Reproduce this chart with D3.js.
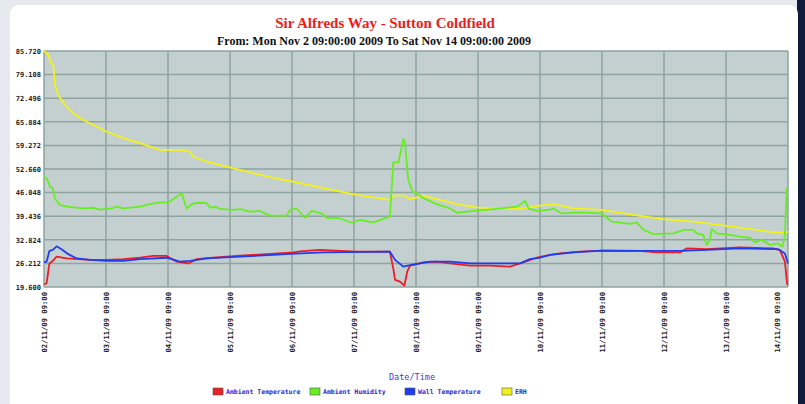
<!DOCTYPE html>
<html>
<head>
<meta charset="utf-8">
<script src="https://cdn.jsdelivr.net/npm/d3@7"></script>
<style>
  body { margin: 0; background: #e9ebee; overflow: hidden; }
  svg { display: block; }
</style>
</head>
<body>
<div id="chart"></div>
<script>
// hours since Mon Nov 2 09:00 2009 -> value
const ambientTemp = [
  [0, 20.4], [1, 20.6], [2.1, 26.2], [3.4, 26.9], [4.9, 28.1], [8.8, 27.6], [17.8, 27.2],
  [24.3, 27.2], [30.7, 27.4], [37.2, 27.8], [42.3, 28.3], [47.5, 28.3], [51.4, 26.7],
  [55.9, 26.2], [59.1, 27.4], [65.5, 27.8], [75.9, 28.4], [86.2, 28.8], [96.5, 29.3],
  [99.1, 29.6], [106.8, 30.0], [121, 29.5], [133.9, 29.5], [135.2, 24.8], [135.9, 21.6],
  [137.8, 21.1], [139.5, 20.0], [140.6, 23.9], [141.7, 25.6], [146.8, 26.5], [152, 26.7],
  [157.2, 26.2], [164.9, 25.6], [172.6, 25.6], [180.4, 25.3], [185.5, 26.5], [190.7, 27.8],
  [195.9, 28.6], [199.7, 29.0], [207.5, 29.5], [215.9, 29.8], [230.7, 29.7], [237.2, 29.3],
  [246.2, 29.3], [248.8, 30.4], [256.5, 30.2], [269.4, 30.7], [282.3, 30.4], [284.9, 29.9],
  [286.8, 26.7], [287.7, 20.2]
];
const ambientHumidity = [
  [0, 50.5], [1, 50.1], [2.3, 47.7], [3.4, 47.3], [4.3, 44.3], [6.2, 42.6], [8.8, 42.1],
  [15.2, 41.6], [19.1, 41.8], [21.7, 41.3], [26.2, 41.6], [28.1, 42.1], [30.7, 41.6],
  [37.2, 42.1], [41, 42.8], [44.9, 43.3], [48.1, 43.3], [53.3, 45.9], [55.2, 41.6],
  [57.2, 42.8], [59.1, 43.2], [63, 43.1], [64.3, 41.8], [66.2, 42.1], [68.1, 41.5],
  [73.3, 41.2], [75.9, 41.4], [79.7, 40.7], [83.6, 40.9], [87.5, 39.6], [94, 39.6],
  [95.2, 41.2], [97.8, 41.6], [101, 39.0], [103.6, 40.9], [107.5, 40.2], [109.4, 39.0],
  [114.6, 38.8], [119.1, 37.6], [122.3, 38.4], [127.5, 37.7], [133.9, 39.3], [135.2, 54.5],
  [137.2, 54.5], [139.1, 61.0], [139.7, 60.3], [141, 49.6], [142.7, 46.3], [144.2, 45.9],
  [146.8, 44.5], [152, 42.8], [157.2, 41.6], [159.8, 40.4], [167.5, 41.0], [175.2, 41.5],
  [183, 42.1], [186.2, 43.7], [187.5, 41.6], [190.7, 40.9], [195.9, 41.3], [197.2, 41.6],
  [200.4, 40.2], [207.5, 40.5], [215.9, 40.2], [219.8, 37.9], [226.9, 37.3], [229.5, 37.7],
  [232.1, 35.6], [235.9, 34.4], [243.7, 34.6], [247.6, 35.6], [251.3, 35.6], [252.6, 34.6],
  [255.2, 34.2], [256.5, 31.4], [257.8, 32.8], [258.5, 35.9], [260.4, 34.6], [265.5, 34.2],
  [269.4, 33.7], [273.3, 33.4], [275.2, 32.1], [277.8, 32.8], [281, 31.4], [284.2, 31.8],
  [285.9, 30.9], [286.8, 34.2], [287.5, 47.3], [288, 47.6]
];
const wallTemp = [
  [0, 26.5], [1, 26.7], [2.1, 29.7], [3.4, 30.0], [4.9, 31.0], [6.8, 30.2], [9.4, 28.8],
  [12.7, 27.6], [17.8, 27.2], [24.3, 26.9], [30.7, 26.9], [37.2, 27.4], [47.5, 27.8],
  [52.6, 26.7], [56.5, 26.9], [63, 27.6], [75.9, 28.1], [88.8, 28.6], [95.2, 28.9],
  [108.1, 29.3], [133.9, 29.5], [135.9, 27.2], [139.1, 25.3], [142.3, 25.8], [149.4, 26.7],
  [157.2, 26.7], [164.9, 26.2], [184.3, 26.2], [188.1, 27.4], [192, 27.8], [195.9, 28.6],
  [204.9, 29.3], [215.9, 29.8], [230.7, 29.7], [246.2, 29.7], [256.5, 30.0], [269.4, 30.4],
  [284.2, 30.2], [286.8, 29.0], [288, 26.2]
];
const erh = [
  [0, 85.72], [1.7, 84.6], [2.6, 82.7], [3.6, 81.8], [4.3, 76.2], [5.5, 73.4], [6.8, 72.0],
  [8.8, 70.1], [11.3, 68.3], [15.2, 66.4], [19.1, 65.0], [24.3, 63.1], [30.7, 61.3],
  [37.2, 59.9], [44.9, 58.0], [52.6, 58.0], [56.5, 57.5], [57.8, 56.1], [63, 54.7],
  [70.7, 53.3], [78.5, 51.9], [88.8, 50.2], [95.2, 49.3], [108.1, 47.3], [121, 45.4],
  [133.9, 44.0], [135.2, 45.2], [139.7, 45.2], [141, 44.3], [143.6, 44.5], [146.8, 45.2],
  [153.3, 44.0], [159.8, 42.8], [167.5, 41.9], [175.2, 41.5], [185.5, 41.6], [192, 42.4],
  [197.2, 42.8], [204.9, 41.6], [215.9, 41.2], [228.1, 39.8], [239.7, 38.6], [251.3, 37.9],
  [264.3, 36.7], [275.9, 35.6], [282.3, 34.9], [286.2, 34.9], [288, 35.0]
];

const seriesNames = ["Ambient Temperature", "Ambient Humidity", "Wall Temperature", "ERH"];
const seriesColors = ["#ee1c24", "#66ee22", "#1f3cf0", "#f2f21a"];
const seriesData = [ambientTemp, ambientHumidity, wallTemp, erh];
// draw order: ERH and humidity underneath, temperatures on top
const drawOrder = [3, 1, 0, 2];

const yTicks = [19.600, 26.212, 32.824, 39.436, 46.048, 52.660, 59.272, 65.884, 72.496, 79.108, 85.720];
const dayLabels = ["02/11/09 09:00", "03/11/09 09:00", "04/11/09 09:00", "05/11/09 09:00",
  "06/11/09 09:00", "07/11/09 09:00", "08/11/09 09:00", "09/11/09 09:00", "10/11/09 09:00",
  "11/11/09 09:00", "12/11/09 09:00", "13/11/09 09:00", "14/11/09 09:00"];

const W = 805, H = 404;
const plot = { left: 44, right: 788, top: 51, bottom: 287 };

const svg = d3.select("#chart").append("svg").attr("width", W).attr("height", H);

// screenshot backdrop
svg.append("rect").attr("width", W).attr("height", H).attr("fill", "#e6e9ed");
svg.append("rect").attr("x", 797).attr("y", 0).attr("width", 8).attr("height", H).attr("fill", "#121a3c");
svg.append("rect").attr("x", 10).attr("y", 5).attr("width", 788).attr("height", H + 20)
  .attr("rx", 9).attr("fill", "#ffffff");

const x = d3.scaleLinear().domain([0, 288]).range([plot.left, plot.right]);
const y = d3.scaleLinear().domain([19.6, 85.72]).range([plot.bottom, plot.top]);

svg.append("rect")
  .attr("x", plot.left).attr("y", plot.top)
  .attr("width", plot.right - plot.left).attr("height", plot.bottom - plot.top)
  .attr("fill", "#c4d0d0");

// grid
svg.append("g")
  .selectAll("line.h").data(yTicks).join("line")
  .attr("x1", plot.left).attr("x2", plot.right)
  .attr("y1", d => y(d)).attr("y2", d => y(d))
  .attr("stroke", "#8fa39f").attr("stroke-width", 1.5);
svg.append("g")
  .selectAll("line.v").data(dayLabels).join("line")
  .attr("x1", (d, i) => x(i * 24)).attr("x2", (d, i) => x(i * 24))
  .attr("y1", plot.top).attr("y2", plot.bottom)
  .attr("stroke", "#8fa39f").attr("stroke-width", 1.5);

// y axis labels
const yAxis = svg.append("g")
  .attr("transform", `translate(${plot.left - 3},0)`)
  .call(d3.axisLeft(y).tickValues(yTicks).tickSize(0).tickPadding(0).tickFormat(d3.format(".3f")));
yAxis.select(".domain").remove();
yAxis.selectAll("text")
  .attr("font-family", "DejaVu Sans Mono, monospace").attr("font-size", 7)
  .attr("font-weight", "bold").attr("fill", "#222");

// x axis labels (rotated)
svg.append("g")
  .selectAll("text").data(dayLabels).join("text")
  .attr("transform", (d, i) => {
    const px = i === dayLabels.length - 1 ? x(i * 24) - 11 : x(i * 24);
    return `translate(${px + 3},${plot.bottom + 5}) rotate(-90)`;
  })
  .attr("text-anchor", "end")
  .attr("font-family", "DejaVu Sans Mono, monospace").attr("font-size", 7.2)
  .attr("font-weight", "bold").attr("fill", "#222")
  .text(d => d);

// lines
const line = d3.line().x(d => x(d[0])).y(d => y(d[1]));
svg.append("g")
  .selectAll("path").data(drawOrder).join("path")
  .attr("d", i => line(seriesData[i]))
  .attr("fill", "none")
  .attr("stroke", i => seriesColors[i])
  .attr("stroke-width", 1.8)
  .attr("stroke-linejoin", "round");

// titles
svg.append("text").attr("x", 385).attr("y", 28).attr("text-anchor", "middle")
  .attr("font-family", "Liberation Serif, serif").attr("font-weight", "bold")
  .attr("font-size", 15).attr("fill", "#ee1c1c")
  .text("Sir Alfreds Way - Sutton Coldfield");
svg.append("text").attr("x", 374).attr("y", 45).attr("text-anchor", "middle")
  .attr("font-family", "Liberation Serif, serif").attr("font-weight", "bold")
  .attr("font-size", 12).attr("fill", "#111")
  .text("From: Mon Nov 2 09:00:00 2009 To Sat Nov 14 09:00:00 2009");

svg.append("text").attr("x", 412).attr("y", 380).attr("text-anchor", "middle")
  .attr("font-family", "DejaVu Sans Mono, monospace").attr("font-size", 8.5)
  .attr("fill", "#3a3adf")
  .text("Date/Time");

// legend
const legendX = [213, 310, 405, 502];
const legend = svg.append("g").selectAll("g").data(seriesNames).join("g")
  .attr("transform", (d, i) => `translate(${legendX[i]},388)`);
legend.append("rect").attr("width", 10).attr("height", 7)
  .attr("fill", (d, i) => seriesColors[i])
  .attr("stroke", "#555").attr("stroke-width", 0.6);
legend.append("text").attr("x", 13).attr("y", 6)
  .attr("font-family", "DejaVu Sans Mono, monospace").attr("font-size", 6.5)
  .attr("font-weight", "bold").attr("fill", "#2a2ad8")
  .text(d => d);
</script>
</body>
</html>
